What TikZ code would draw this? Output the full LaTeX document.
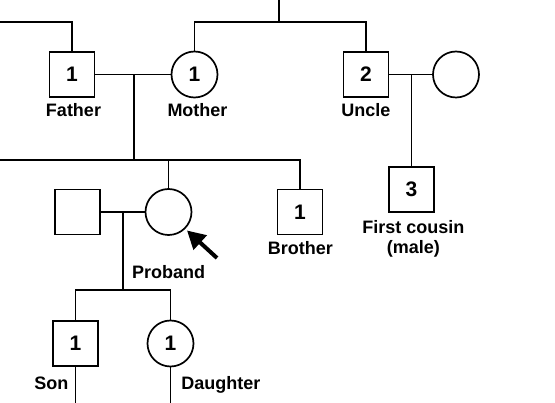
\documentclass[tikz,border=0pt]{standalone}
\usepackage{fontspec}
\setmainfont{Liberation Sans}
\usepackage{tikz}
\usetikzlibrary{calc,shapes,positioning}
\usetikzlibrary{arrows.meta}

\begin{document}
\begin{tikzpicture}[x=1pt,y=-1pt,line width=1.7pt]
          \tikzstyle{male} = [draw, rectangle, minimum size=45pt, inner sep=0pt, font=\fontsize{21}{24}\selectfont\bfseries]
          \tikzstyle{female} = [draw, circle, minimum size=46pt, inner sep=0pt, font=\fontsize{21}{24}\selectfont\bfseries]
          \tikzstyle{lbl} = [anchor=base, inner sep=0pt, align=center, font=\fontsize{18}{19.5}\selectfont\bfseries]
          \useasboundingbox (0,0) rectangle (555,403);

            % first generation
            \node[male] (father) at (72, 74.5) {1};
            \node[female] (mother) at (194.5, 74.5) {1};
            \node[male] (uncle) at (366, 74.5) {2};
            \node[female] (aunt) at (456, 74.5) {};

            % second generation
            \node[male] (husband) at (77.5, 212) {};
            \node[female] (proband) at (168.5, 212) {};
            \node[male] (brother) at (300, 212) {1};
            \node[male] (cousin) at (411.5, 189.5) {3};

            % third generation
            \node[male] (son) at (75.5, 343.5) {1};
            \node[female] (daughter) at (170.5, 343.5) {1};

            % labels
            \node[lbl] (lfather) at (73.5, 116.7) {Father};
            \node[lbl] (lmother) at (197.5, 116.7) {Mother};
            \node[lbl] (luncle) at (366, 116.7) {Uncle};
            \node[lbl, anchor=north] (lcousin) at (413.3, 219.8) {First cousin\\(male)};
            \node[lbl] (lbrother) at (300.5, 255) {Brother};
            \node[lbl] (lproband) at (168.7, 279) {Proband};
            \node[lbl] (lson) at (51.3, 389.3) {Son};
            \node[lbl] (ldaughter) at (220.8, 389.3) {Daughter};

            % junctions
            \coordinate (topl) at (0, 22);
            \coordinate (topm) at (279, 22);
            \coordinate (topt) at (279, 0);
            \coordinate (fm) at (134, 74.5);
            \coordinate (sib) at (134, 160);
            \coordinate (sibl) at (0, 160);
            \coordinate (pd) at (168.5, 160);
            \coordinate (um) at (411.5, 74.5);
            \coordinate (hm) at (123, 212);
            \coordinate (kids) at (123, 290);
            \coordinate (sonb) at (75.5, 403);
            \coordinate (daub) at (170.5, 403);
            \coordinate (arrt) at (217, 258);
            \coordinate (arrh) at (187, 230.5);

            \draw[-] (topl) -| (father);
            \draw[-] (mother) |- (topm);
            \draw[-] (topm) -| (uncle);
            \draw[-] (topm) to (topt);

            \draw[-] (father) to (mother);
            \draw[-] (fm) to (sib);
            \draw[-] (sibl) -| (brother);
            \draw[-] (pd) to (proband);

            \draw[-] (uncle) to (aunt);
            \draw[-] (um) to (cousin);

            \draw[-] (husband) to (proband);
            \draw[-] (hm) to (kids);
            \draw[-] (son) |- (kids);
            \draw[-] (kids) -| (daughter);
            \draw[-] (son) to (sonb);
            \draw[-] (daughter) to (daub);

            \draw[line width=4pt, -{Triangle[length=18pt,width=19pt]}] (arrt) to (arrh);
        \end{tikzpicture}
\end{document}
